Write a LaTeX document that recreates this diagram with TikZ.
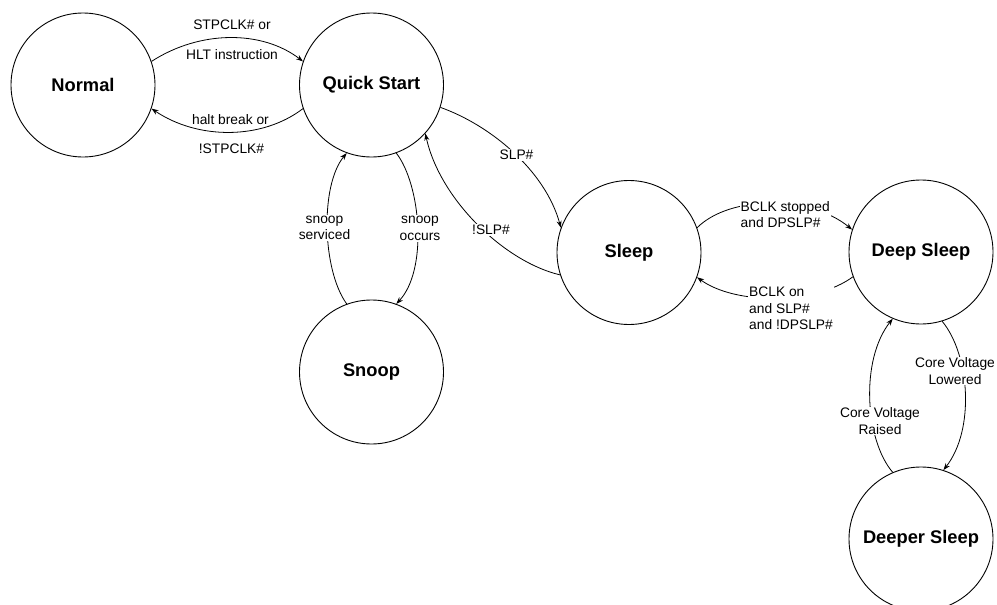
\documentclass[tikz,border=0pt]{standalone}
\usepackage{fontspec}
\setmainfont{Liberation Sans}
\usetikzlibrary{arrows.meta}
\begin{document}
\begin{tikzpicture}[x=1pt,y=-1pt,
  state/.style={circle,draw,line width=0.9pt,minimum size=144pt,inner sep=0pt,
    font=\fontsize{18.3}{22}\selectfont\bfseries},
  trans/.style={line width=0.8pt,-{Stealth[length=7pt,width=5pt]}},
  lbl/.style={font=\fontsize{13.8}{16.5}\selectfont,inner sep=1pt},
  wlbl/.style={lbl,fill=white,align=center},
]
\useasboundingbox (0,0) rectangle (997,605);
\node[state] (N)  at (83,85)    {Normal};
\node[state] (QS) at (371.5,85) {Quick Start};
\node[state] (SN) at (371.5,372) {Snoop};
\node[state] (SL) at (629,252.5) {Sleep};
\node[state] (DS) at (921,252)  {Deep Sleep};
\node[state] (DD) at (921,539)  {Deeper Sleep};

% Normal <-> Quick Start
\draw[trans] (N.19) .. controls (200,30) and (262,30) .. (QS.161);
\draw[trans] (QS.-161) .. controls (262,140) and (198,140) .. (N.-19);
\node[lbl] (l1a) at (232,25)  {STPCLK\# or};
\node[lbl] (l1b) at (232,55)  {HLT instruction};
\node[lbl] (l2a) at (230.5,120) {halt break or};
\node[lbl] (l2b) at (231.5,149) {!STPCLK\#};

% Quick Start <-> Sleep
\draw[trans] (QS.-18) .. controls (490,125) and (545,170) .. (SL.160);
\draw[trans] (SL.-162) .. controls (505,262) and (440,200) .. (QS.-42);
\node[wlbl] (l3) at (516.5,155) {SLP\#};
\node[wlbl] (l4) at (491,230) {!SLP\#};

% Quick Start <-> Snoop
\draw[trans] (QS.-70) .. controls (421,185) and (428,270) .. (SN.70);
\draw[trans] (SN.110) .. controls (322,270) and (320,185) .. (QS.-110);
\node[wlbl] (l5) at (420,228.5) {snoop\\occurs};
\node[wlbl] (l6) at (324.5,228) {snoop\\serviced};

% Sleep <-> Deep Sleep
\draw[trans] (SL.20) .. controls (730,195) and (810,195) .. (DS.162);
\draw[trans] (DS.-160) .. controls (815,305) and (735,305) .. (SL.-20);
\node[lbl,fill=white,align=left,anchor=west] (l7) at (739.5,214.5) {BCLK stopped\\and DPSLP\#};
\node[lbl,fill=white,align=left,anchor=west] (l8) at (748,308.5) {BCLK on\\and SLP\#\\and !DPSLP\#};

% Deep Sleep <-> Deeper Sleep
\draw[trans] (DS.-73) .. controls (970,355) and (975,430) .. (DD.72);
\draw[trans] (DD.113) .. controls (865,440) and (860,360) .. (DS.-113);
\node[wlbl] (l9) at (955,371) {Core Voltage\\Lowered};
\node[wlbl] (l10) at (880,421) {Core Voltage\\Raised};
\end{tikzpicture}
\end{document}
